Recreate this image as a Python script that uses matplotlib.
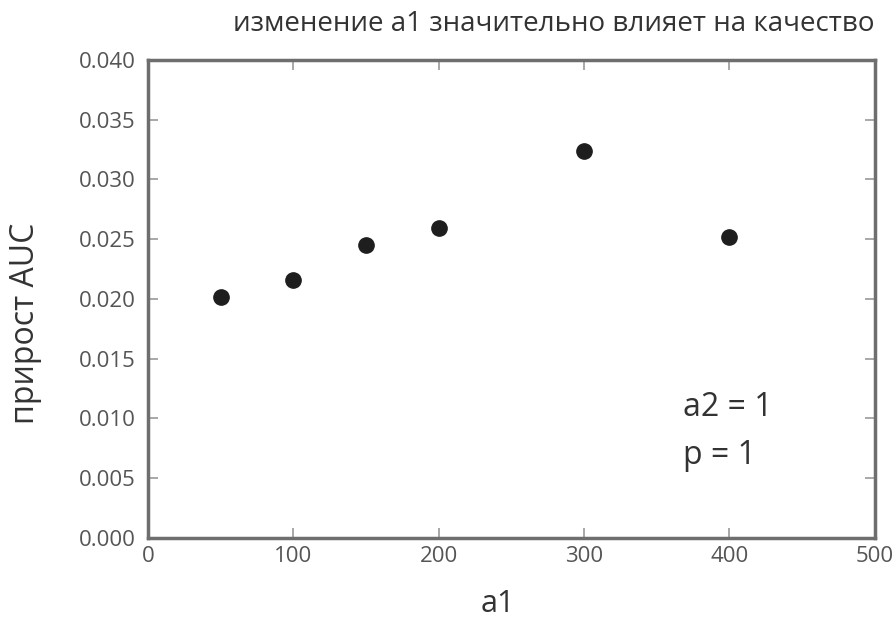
import matplotlib
matplotlib.use("Agg")
import matplotlib.pyplot as plt

a1_values = [50, 100, 150, 200, 300, 400]
auc_gain = [0.0202, 0.0216, 0.0245, 0.0259, 0.0324, 0.0252]
x_ticks = [0, 100, 200, 300, 400, 500]
y_ticks = [0.000, 0.005, 0.010, 0.015, 0.020, 0.025, 0.030, 0.035, 0.040]

plt.rcParams['font.family'] = ['Open Sans', 'DejaVu Sans']

fig = plt.figure(figsize=(8.94, 6.21), dpi=100)
ax = fig.add_axes([0.1655, 0.1337, 0.813, 0.7697])

ax.plot(a1_values, auc_gain, 'o', color='#1e1e1e', markersize=11)
ax.set_xlim(0, 500)
ax.set_ylim(0, 0.040)
ax.set_xticks(x_ticks)
ax.set_yticks(y_ticks)
ax.set_xticklabels([str(v) for v in x_ticks])
ax.set_yticklabels([f"{v:.3f}" for v in y_ticks])

for s in ax.spines.values():
    s.set_color('#6e6e6e')
    s.set_linewidth(2.5)
ax.tick_params(direction='in', top=True, right=True, length=7, width=1.2,
               color='#9a9a9a', labelsize=16, labelcolor='#555555')
ax.tick_params(axis='y', pad=9)
ax.tick_params(axis='x', pad=6)

ax.set_xlabel('a1', fontsize=22, color='#333333')
ax.xaxis.set_label_coords(0.482, -0.106)
ax.set_ylabel('прирост AUC', fontsize=23, color='#333333')
ax.yaxis.set_label_coords(-0.146, 0.45)
ax.set_title('изменение a1 значительно влияет на качество', fontsize=20,
             color='#333333', pad=21, x=0.558)

ax.text(368, 0.0109, 'a2 = 1', fontsize=23, color='#333333', va='center')
ax.text(368, 0.0069, 'p = 1', fontsize=23, color='#333333', va='center')

fig.savefig('out.png', dpi=100)
